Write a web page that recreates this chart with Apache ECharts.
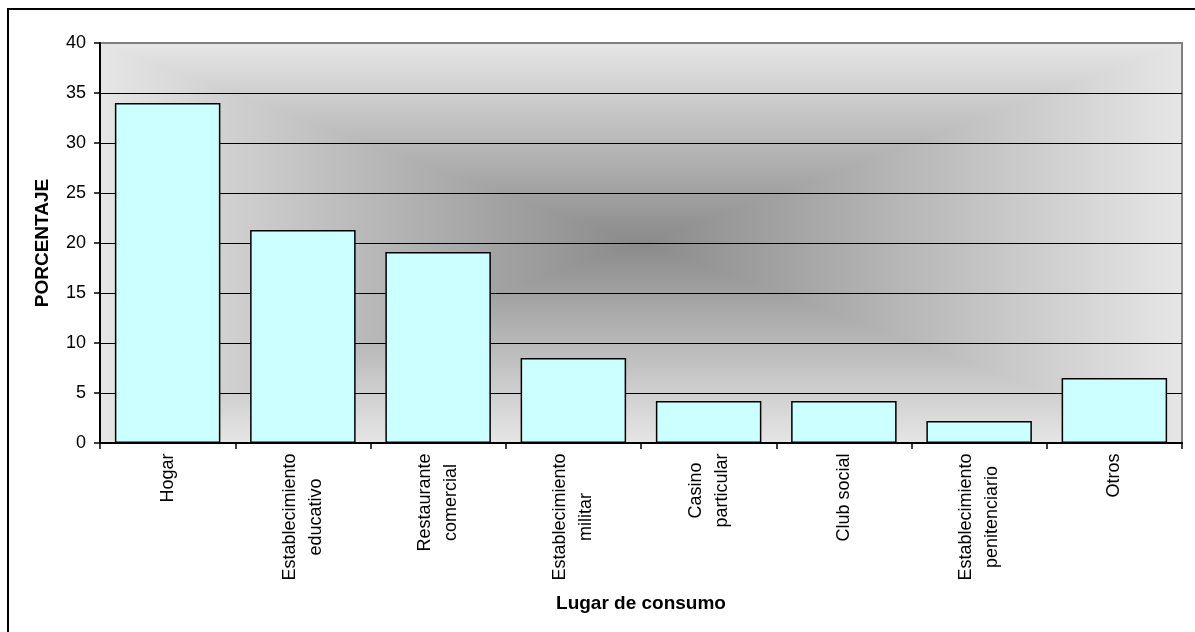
<!DOCTYPE html>
<html>
<head>
<meta charset="utf-8">
<script src="https://cdn.jsdelivr.net/npm/echarts@6/dist/echarts.min.js"></script>
<style>
  html, body { margin: 0; padding: 0; background: #fff; }
  #chart { width: 1195px; height: 632px; }
</style>
</head>
<body>
<div id="chart"></div>
<script>
// Lugar de consumo vs porcentaje
const categories = [
  'Hogar',
  'Establecimiento\neducativo',
  'Restaurante\ncomercial',
  'Establecimiento\nmilitar',
  'Casino\nparticular',
  'Club social',
  'Establecimiento\npenitenciario',
  'Otros'
];
const values = [34.0, 21.3, 19.1, 8.5, 4.2, 4.2, 2.2, 6.5];
const yMin = 0;
const yMax = 40;
const yStep = 5;

const FONT = '"Liberation Sans", Arial, sans-serif';
const LABEL_SIZE = 18;

// measure each category label so its lines can be centered inside a block
const ctx = document.createElement('canvas').getContext('2d');
ctx.font = LABEL_SIZE + 'px ' + FONT;
const rich = {};
categories.forEach((c, i) => {
  const w = Math.max(...c.split('\n').map(l => ctx.measureText(l).width));
  rich['c' + i] = {
    width: Math.ceil(w),
    align: 'center',
    fontSize: LABEL_SIZE,
    fontFamily: FONT,
    color: '#000',
    lineHeight: 26
  };
});

const chart = echarts.init(document.getElementById('chart'), null, { renderer: 'canvas' });

const option = {
  animation: false,
  backgroundColor: '#fff',
  textStyle: { fontFamily: FONT },
  grid: {
    left: 100, right: 13, top: 43, bottom: 189,
    show: true,
    backgroundColor: 'transparent',
    borderColor: '#808080',
    borderWidth: 2
  },
  xAxis: {
    type: 'category',
    data: categories,
    name: 'Lugar de consumo',
    nameLocation: 'middle',
    nameGap: 151,
    nameTextStyle: { fontSize: 19, fontWeight: 'bold', color: '#000', fontFamily: FONT },
    axisLine: { lineStyle: { color: '#000', width: 2 } },
    axisTick: { show: true, length: 6, lineStyle: { color: '#000', width: 1.5 } },
    axisLabel: {
      rotate: 90,
      margin: 10,
      interval: 0,
      formatter: (v, i) => v.split('\n').map(l => '{c' + i + '|' + l + '}').join('\n'),
      rich: rich
    },
    splitLine: { show: false }
  },
  yAxis: {
    type: 'value',
    min: yMin, max: yMax, interval: yStep,
    name: 'PORCENTAJE',
    nameLocation: 'middle',
    nameGap: 48,
    nameTextStyle: { fontSize: 19, fontWeight: 'bold', color: '#000', fontFamily: FONT },
    axisLine: { show: true, lineStyle: { color: '#000', width: 2 } },
    axisTick: { show: true, length: 6, lineStyle: { color: '#000', width: 1.5 } },
    axisLabel: { fontSize: 18, color: '#000', margin: 14, fontFamily: FONT },
    splitLine: { show: true, showMaxLine: false, lineStyle: { color: '#000', width: 1.2 } }
  },
  series: [{
    type: 'bar',
    data: values,
    barCategoryGap: '22%',
    itemStyle: { color: '#CCFFFF', borderColor: '#000', borderWidth: 1.5 },
    z: 5
  }]
};
chart.setOption(option);

// rectangular "from center" shading of the plot area, built as four triangles
const gridRect = chart.getModel().getComponent('grid', 0).coordinateSystem.getRect();
const L = gridRect.x, T = gridRect.y, R = gridRect.x + gridRect.width, B = gridRect.y + gridRect.height;
const CX = (L + R) / 2, CY = (T + B) / 2;
const edge = '#e6e6e6', mid = '#8a8a8a';
function grad(x, y, x2, y2) {
  return new echarts.graphic.LinearGradient(x, y, x2, y2, [
    { offset: 0, color: edge }, { offset: 1, color: mid }
  ]);
}
function tri(points, g) {
  return { type: 'polygon', z: -10, silent: true, shape: { points }, style: { fill: g, stroke: g, lineWidth: 1 } };
}
chart.setOption({
  graphic: [
    tri([[L, T], [R, T], [CX, CY]], grad(0, 0, 0, 1)),
    tri([[L, B], [R, B], [CX, CY]], grad(0, 1, 0, 0)),
    tri([[L, T], [L, B], [CX, CY]], grad(0, 0, 1, 0)),
    tri([[R, T], [R, B], [CX, CY]], grad(1, 0, 0, 0)),
    {
      type: 'rect', z: 100, silent: true,
      shape: { x: 8, y: 9, width: 1200, height: 640 },
      style: { fill: null, stroke: '#000', lineWidth: 2 }
    }
  ]
});
</script>
</body>
</html>
